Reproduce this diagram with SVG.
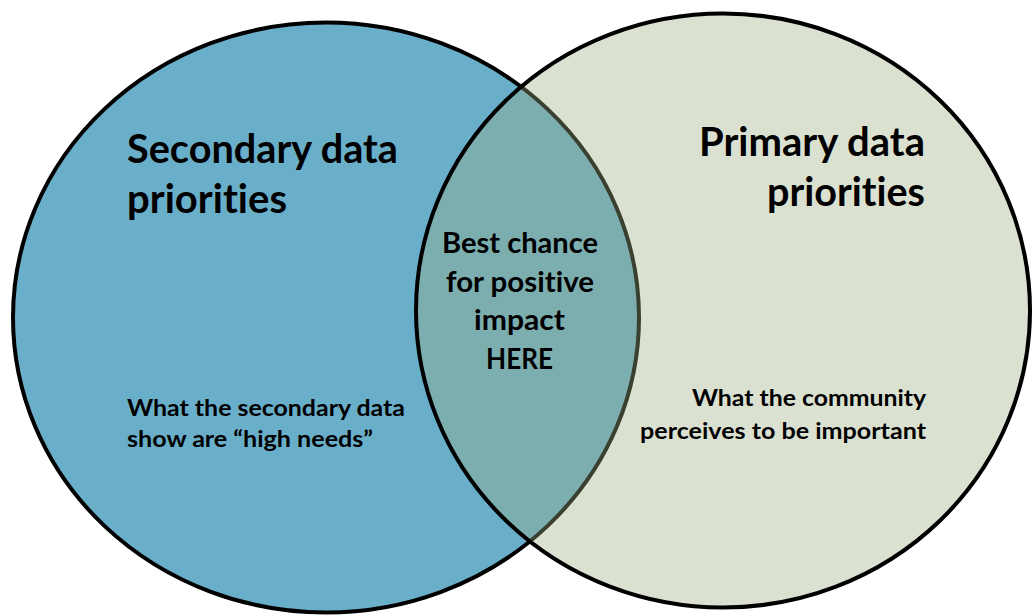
<svg xmlns="http://www.w3.org/2000/svg" width="1032" height="615" viewBox="0 0 1032 615">
<style>
.t{font-family:Lato,"Open Sans","Liberation Sans",sans-serif;font-weight:bold;fill:#000;font-variant-ligatures:none;font-feature-settings:"liga" 0}
.big{font-size:40px}
.mid{font-size:28px}
.sm{font-size:23px}
</style>
<rect width="1032" height="615" fill="#fff"/>
<g id="secondary">
<ellipse cx="326" cy="317.5" rx="313" ry="295" fill="#6AAFC9" stroke="#000" stroke-width="4"/>
</g>
<g id="primary">
<ellipse cx="723" cy="310.5" rx="307" ry="297" fill="rgb(157,173,130)" fill-opacity="0.37" stroke="#000" stroke-width="4"/>
</g>
<g id="labels">
<text class="t big" x="127" y="163" textLength="271" lengthAdjust="spacingAndGlyphs">Secondary data</text>
<text class="t big" x="127" y="213" textLength="160" lengthAdjust="spacingAndGlyphs">priorities</text>
<text class="t big" x="699" y="156" textLength="226" lengthAdjust="spacingAndGlyphs">Primary data</text>
<text class="t big" x="767" y="206" textLength="158" lengthAdjust="spacingAndGlyphs">priorities</text>
<text class="t mid" x="442" y="253" textLength="156" lengthAdjust="spacingAndGlyphs">Best chance</text>
<text class="t mid" x="446" y="292" textLength="148" lengthAdjust="spacingAndGlyphs">for positive</text>
<text class="t mid" x="474" y="330" textLength="91" lengthAdjust="spacingAndGlyphs">impact</text>
<text class="t mid" x="486" y="369" textLength="67" lengthAdjust="spacingAndGlyphs">HERE</text>
<text class="t sm" x="127" y="416" textLength="278" lengthAdjust="spacingAndGlyphs">What the secondary data</text>
<text class="t sm" x="127" y="447" textLength="246" lengthAdjust="spacingAndGlyphs">show are “high needs”</text>
<text class="t sm" x="692" y="406" textLength="234" lengthAdjust="spacingAndGlyphs">What the community</text>
<text class="t sm" x="640" y="439" textLength="286" lengthAdjust="spacingAndGlyphs">perceives to be important</text>
</g>
</svg>
